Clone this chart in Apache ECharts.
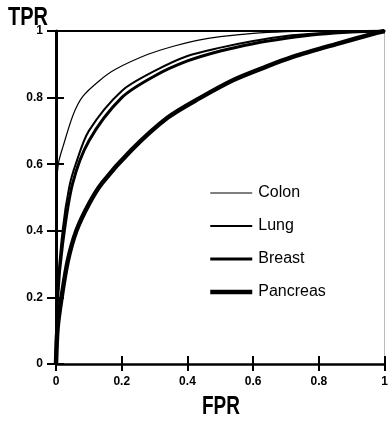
<!DOCTYPE html>
<html>
<head>
<meta charset="utf-8">
<script src="https://cdn.jsdelivr.net/npm/echarts@6/dist/echarts.min.js"></script>
<style>
	html, body { margin: 0; padding: 0; background: #fff; }
	#chart { width: 391px; height: 421px; }
</style>
</head>
<body>
<div id="chart"></div>
<script>
// 读图估计的 ROC 曲线点 [FPR, TPR]
var colonData = [[0, 0], [0.001, 0.5], [0.007, 0.6], [0.022, 0.655], [0.052, 0.748], [0.081, 0.803],
	[0.131, 0.85], [0.181, 0.885], [0.28, 0.93], [0.36, 0.955], [0.43, 0.972], [0.5, 0.983],
	[0.6, 0.993], [0.7, 0.998], [0.8, 1], [1, 1]];
var lungData = [[0, 0], [0.005, 0.22], [0.02, 0.4], [0.04, 0.53], [0.06, 0.6], [0.1, 0.7], [0.2, 0.82],
	[0.3, 0.88], [0.4, 0.925], [0.5, 0.95], [0.6, 0.97], [0.7, 0.985], [0.8, 0.993], [0.9, 0.998], [1, 1]];
var breastData = [[0, 0], [0.005, 0.2], [0.02, 0.36], [0.05, 0.54], [0.1, 0.67], [0.2, 0.8],
	[0.3, 0.865], [0.4, 0.91], [0.5, 0.94], [0.6, 0.962], [0.7, 0.978], [0.8, 0.99], [0.9, 0.997], [1, 1]];
var pancreasData = [[0, 0], [0.005, 0.11], [0.017, 0.2], [0.036, 0.31], [0.062, 0.4], [0.1, 0.48],
	[0.14, 0.543], [0.23, 0.643], [0.34, 0.74], [0.44, 0.8], [0.54, 0.853], [0.64, 0.893],
	[0.72, 0.922], [0.85, 0.96], [0.97, 0.993], [1, 1]];
var seriesNames = ['Colon', 'Lung', 'Breast', 'Pancreas'];
var lineWidths = [1.2, 2, 3, 4.5];
var axisTicks = [0, 0.2, 0.4, 0.6, 0.8, 1];

(function() {
	var myChart = echarts.init(document.getElementById('chart'));
	var allData = [colonData, lungData, breastData, pancreasData];
	var labelFont = {
		color: '#000',
		fontSize: 12,
		fontWeight: 'bold',
		fontFamily: 'Liberation Sans, Arial, sans-serif'
	};
	var titleFont = 'bold 25px "Liberation Sans", Arial, sans-serif';

	var serieData = [];
	var legendData = [];
	for (var i = 0; i < allData.length; i++) {
		serieData.push({
			type: 'line',
			name: seriesNames[i],
			data: allData[i],
			xAxisIndex: 0,
			yAxisIndex: 0,
			symbol: 'none',
			smooth: 0.3,
			lineStyle: { color: '#000', width: lineWidths[i] },
			itemStyle: { color: '#000' },
			animation: false
		});
		legendData.push({
			name: seriesNames[i],
			lineStyle: { color: '#000', width: lineWidths[i] },
			itemStyle: { opacity: 0 }
		});
	}

	function valueAxis(extra) {
		var base = {
			type: 'value',
			min: axisTicks[0],
			max: axisTicks[axisTicks.length - 1],
			interval: 0.2,
			splitLine: { show: false },
			axisLine: { show: false, onZero: false },
			axisTick: { show: false },
			axisLabel: { show: false }
		};
		for (var k in extra) base[k] = extra[k];
		return base;
	}

	var option = {
		backgroundColor: '#fff',
		animation: false,
		grid: { left: 56, right: 0, top: 31, bottom: 57 },
		graphic: [{
			type: 'text',
			x: 8,
			y: 6,
			scaleX: 0.8,
			style: { text: 'TPR', fill: '#000', font: titleFont }
		}, {
			type: 'text',
			x: 221,
			y: 395,
			scaleX: 0.76,
			style: { text: 'FPR', fill: '#000', font: titleFont, align: 'center' }
		}],
		legend: {
			orient: 'vertical',
			left: 208,
			top: 185,
			padding: 0,
			itemWidth: 42,
			itemHeight: 16,
			itemGap: 17,
			data: legendData,
			itemStyle: { opacity: 0 },
			textStyle: {
				color: '#000',
				fontSize: 16,
				fontFamily: 'Liberation Sans, Arial, sans-serif',
				padding: [0, 0, 0, 1]
			}
		},
		xAxis: [
			valueAxis({
				position: 'bottom',
				axisLine: { show: true, onZero: false, lineStyle: { color: '#000', width: 2.5 } },
				axisTick: { show: true, length: 7, lineStyle: { color: '#000', width: 2 } },
				axisLabel: { show: true, margin: 12, textStyle: labelFont }
			}),
			valueAxis({
				position: 'bottom',
				axisTick: { show: true, inside: true, length: 8, lineStyle: { color: '#000', width: 2 } }
			}),
			valueAxis({
				position: 'top',
				axisLine: { show: true, onZero: false, lineStyle: { color: '#000', width: 2 } }
			})
		],
		yAxis: [
			valueAxis({
				position: 'left',
				axisLine: { show: true, onZero: false, lineStyle: { color: '#000', width: 3 } },
				axisTick: { show: true, length: 9, lineStyle: { color: '#000', width: 2 } },
				axisLabel: { show: true, margin: 13, textStyle: labelFont }
			}),
			valueAxis({
				position: 'left',
				axisTick: { show: true, inside: true, length: 8, lineStyle: { color: '#000', width: 2 } }
			}),
			valueAxis({
				position: 'right',
				axisLine: { show: true, onZero: false, lineStyle: { color: '#bbb', width: 1 } }
			})
		],
		series: serieData
	};

	myChart.setOption(option);
	window.addEventListener("resize", function() {
		myChart.resize();
	});
})();
</script>
</body>
</html>
